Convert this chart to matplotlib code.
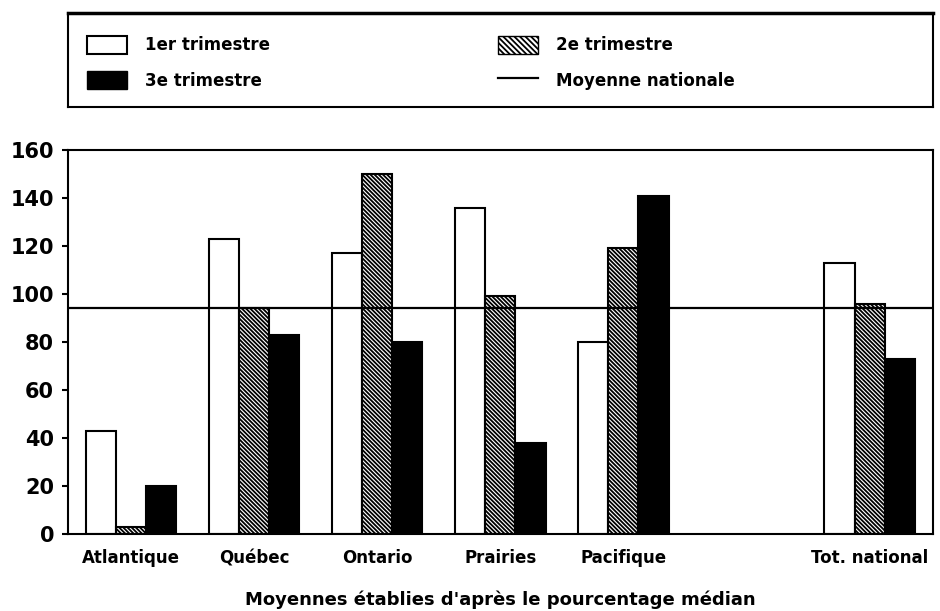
import matplotlib
matplotlib.use("Agg")
import matplotlib.pyplot as plt
import numpy as np
from matplotlib.patches import Patch
from matplotlib.lines import Line2D

regions = ["Atlantique", "Québec", "Ontario", "Prairies", "Pacifique", "Tot. national"]
slots = [0, 1, 2, 3, 4, 6]  # empty slot before the national total
q1 = [43, 123, 117, 136, 80, 113]
q2 = [3, 94, 150, 99, 119, 96]
q3 = [20, 83, 80, 38, 141, 73]
national_avg = 94

series_labels = ["1er trimestre", "2e trimestre", "3e trimestre"]
legend_line_label = "Moyenne nationale"
xlabel = "Moyennes établies d'après le pourcentage médian"

plt.rcParams["font.family"] = ["DejaVu Sans"]
plt.rcParams["font.weight"] = "bold"
plt.rcParams["axes.labelweight"] = "bold"
plt.rcParams["hatch.linewidth"] = 1.3

fig = plt.figure(figsize=(9.4, 6.11), dpi=100)
ax = fig.add_axes([68 / 940, 1 - 534 / 611, (932.5 - 68) / 940, (534 - 150) / 611])

x = np.array(slots, dtype=float)
w = 0.245
ax.bar(x - w, q1, w, color="white", edgecolor="black", linewidth=1.5)
ax.bar(x, q2, w, color="white", edgecolor="black", hatch="\\\\\\\\\\\\\\\\", linewidth=1.5)
ax.bar(x + w, q3, w, color="black", edgecolor="black", linewidth=1.5)
ax.axhline(national_avg, color="black", linewidth=1.6, zorder=3)

ax.set_xlim(-0.51, 6.51)
ax.set_ylim(0, 160)
ax.set_yticks(np.arange(0, 161, 20))
ax.tick_params(axis="y", direction="out", length=4, width=1.5, labelsize=15, pad=6)
ax.set_xticks(x)
ax.set_xticklabels(regions)
ax.tick_params(axis="x", length=0, labelsize=12, pad=11)
for s in ax.spines.values():
    s.set_linewidth(1.5)
ax.set_xlabel(xlabel, fontsize=13, fontweight="bold", labelpad=17)

# legend box
lax = fig.add_axes([68 / 940, 1 - 107 / 611, (932.5 - 68) / 940, (107 - 13) / 611])
lax.set_xticks([])
lax.set_yticks([])
for s in lax.spines.values():
    s.set_linewidth(1.5)
lax.spines["top"].set_linewidth(2.5)

h1 = Patch(facecolor="white", edgecolor="black", linewidth=1.5)
h2 = Patch(facecolor="white", edgecolor="black", hatch="\\\\\\\\\\\\", linewidth=1)
h3 = Patch(facecolor="black", edgecolor="black")
h4 = Line2D([], [], color="black", linewidth=1.6)

kw = dict(frameon=False, fontsize=12, handlelength=2.4, handleheight=1.25,
          handletextpad=1.1, labelspacing=1.0, borderpad=0, borderaxespad=0,
          loc="center left")
leg1 = lax.legend([h1, h3], [series_labels[0], series_labels[2]],
                  bbox_to_anchor=((87 - 68) / 864.5, 0.47), **kw)
lax.add_artist(leg1)
lax.legend([h2, h4], [series_labels[1], legend_line_label],
           bbox_to_anchor=((498 - 68) / 864.5, 0.47), **kw)

fig.savefig("out.png", dpi=100)
